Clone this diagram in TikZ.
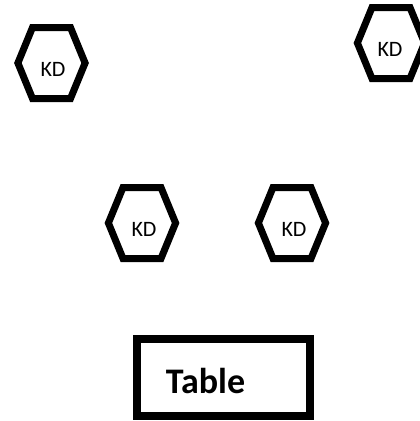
\documentclass[tikz,border=0pt]{standalone}
\usepackage{fontspec}
\setmainfont{Carlito}
\begin{document}
\begin{tikzpicture}[x=1pt,y=-1pt,
  hexline/.style={line width=7pt, line join=miter, draw=black},
  kdtext/.style={font=\fontsize{22}{22}\selectfont, anchor=base, inner sep=0pt},
  tablebox/.style={draw=black, line width=8.5pt, minimum width=172.6pt, minimum height=77pt, inner sep=0pt},
  tabletext/.style={font=\fontsize{36}{36}\selectfont\bfseries, anchor=base, inner sep=0pt}]
\useasboundingbox (0,0) rectangle (420,421);
\begin{scope}
\clip (0,0) rectangle (420,421);
% hexagons
\draw[hexline, shift={(51.5,63)}] (-33.6,0) -- (-19,-35.5) -- (19,-35.5) -- (33.6,0) -- (19,35.5) -- (-19,35.5) -- cycle;
\draw[hexline, shift={(391,43)}] (-33.6,0) -- (-19,-35.5) -- (19,-35.5) -- (33.6,0) -- (19,35.5) -- (-19,35.5) -- cycle;
\draw[hexline, shift={(142,223)}] (-33.6,0) -- (-19,-35.5) -- (19,-35.5) -- (33.6,0) -- (19,35.5) -- (-19,35.5) -- cycle;
\draw[hexline, shift={(292,223)}] (-33.6,0) -- (-19,-35.5) -- (19,-35.5) -- (33.6,0) -- (19,35.5) -- (-19,35.5) -- cycle;
\node[kdtext] (k1) at (53,76) {KD};
\node[kdtext] (k2) at (390,56) {KD};
\node[kdtext] (k3) at (144,236) {KD};
\node[kdtext] (k4) at (294,236) {KD};
% table
\node[tablebox] (tbl) at (223.5,377.6) {};
\node[tabletext] (tbltxt) at (205.5,393) {Table};
\end{scope}
\end{tikzpicture}
\end{document}
